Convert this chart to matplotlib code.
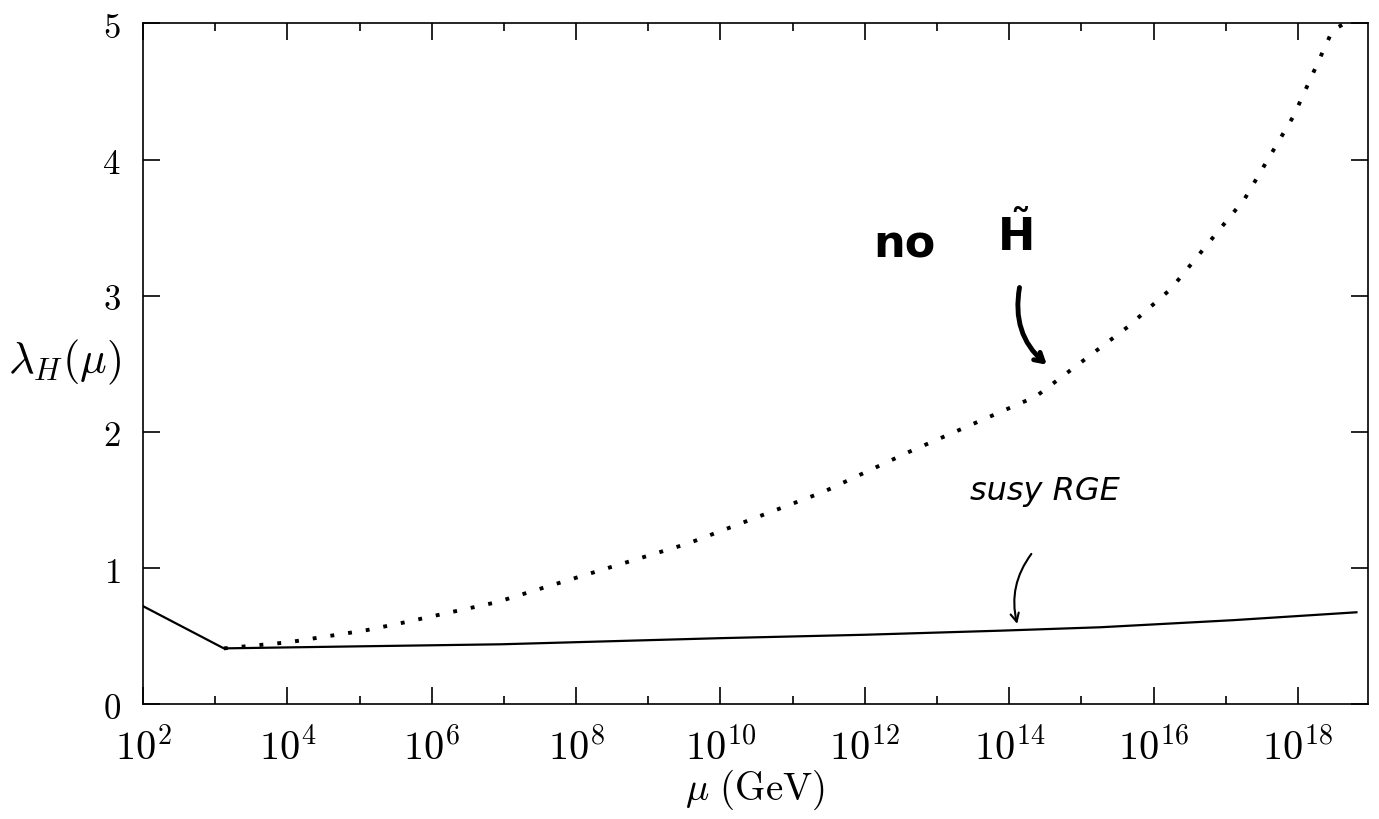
import matplotlib as mpl
import matplotlib.pyplot as plt
import numpy as np
from matplotlib.ticker import FixedLocator, FuncFormatter, NullFormatter

mpl.rc('mathtext', fontset='cm')
mpl.rc('font', family='serif', serif=['DejaVu Serif'])

# log10(mu / GeV) and lambda_H(mu) for the two running curves
susy_logmu = [2.0, 3.12, 5.0, 6.96, 10.0, 12.0, 13.88, 15.26, 17.1, 18.81]
susy_lambda = [0.72, 0.41, 0.425, 0.44, 0.485, 0.51, 0.54, 0.565, 0.617, 0.675]

nohiggsino_logmu = [3.12, 4.02, 5.09, 5.57, 6.90, 7.57, 9.55, 11.43, 12.60,
                    14.37, 15.64, 16.24, 17.26, 17.94, 18.48, 18.65]
nohiggsino_lambda = [0.41, 0.455, 0.543, 0.595, 0.749, 0.859, 1.18, 1.56, 1.85,
                     2.26, 2.77, 3.05, 3.71, 4.32, 4.95, 5.0]

fig = plt.figure(figsize=(13.79, 8.2), dpi=100)
ax = fig.add_axes([0.1037, 0.140, 0.8883, 0.8303])

ax.plot(10.0 ** np.array(susy_logmu), susy_lambda, c='k', lw=1.6)
ax.plot(10.0 ** np.array(nohiggsino_logmu), nohiggsino_lambda, c='k', lw=2.8,
        linestyle=(0, (1, 3.6)), dash_capstyle='butt')

ax.set_xscale('log')
ax.set_xlim(1e2, 10 ** 18.97)
ax.set_ylim(0, 5)

ax.xaxis.set_major_locator(FixedLocator(10.0 ** np.arange(2, 19, 2)))
ax.xaxis.set_minor_locator(FixedLocator(10.0 ** np.arange(3, 19, 2)))
ax.xaxis.set_major_formatter(FuncFormatter(lambda v, p: r'$10^{%d}$' % round(np.log10(v))))
ax.xaxis.set_minor_formatter(NullFormatter())
ax.set_yticks(range(6))
ax.yaxis.set_major_formatter(FuncFormatter(lambda v, p: r'$%d$' % v))

ax.tick_params(which='both', direction='in', top=True, right=True, width=1.2)
ax.tick_params(which='major', length=12)
ax.tick_params(which='minor', length=6)
ax.tick_params(axis='x', which='major', labelsize=29, pad=16)
ax.tick_params(axis='y', labelsize=25, pad=16)
for s in ax.spines.values():
    s.set_linewidth(1.2)

ax.set_xlabel(r'$\mu\ \mathrm{(GeV)}$', fontsize=28, labelpad=0)
ax.set_ylabel(r'$\lambda_H(\mu)$', fontsize=32, rotation=0)
ax.yaxis.set_label_coords(-0.064, 0.468)

# handwritten notes
ax.text(10 ** 12.55, 3.38, 'no', fontsize=32, fontweight='bold',
        family='DejaVu Sans', ha='center', va='center')
ax.text(10 ** 14.08, 3.45, r'$\tilde{\mathbf{H}}$', fontsize=32,
        math_fontfamily='dejavusans', ha='center', va='center')
ax.annotate('', xy=(10 ** 14.55, 2.48), xytext=(10 ** 14.15, 3.08),
            arrowprops=dict(arrowstyle='->,head_length=0.6,head_width=0.35',
                            lw=3.5, color='k', connectionstyle='arc3,rad=0.3'))

ax.text(10 ** 14.49, 1.57, 'susy RGE', fontsize=23, family='DejaVu Sans',
        style='italic', ha='center', va='center')
ax.annotate('', xy=(10 ** 14.12, 0.57), xytext=(10 ** 14.33, 1.12),
            arrowprops=dict(arrowstyle='->,head_length=0.6,head_width=0.3',
                            lw=1.5, color='k', connectionstyle='arc3,rad=0.25'))

fig.savefig('out.png', dpi=100)
